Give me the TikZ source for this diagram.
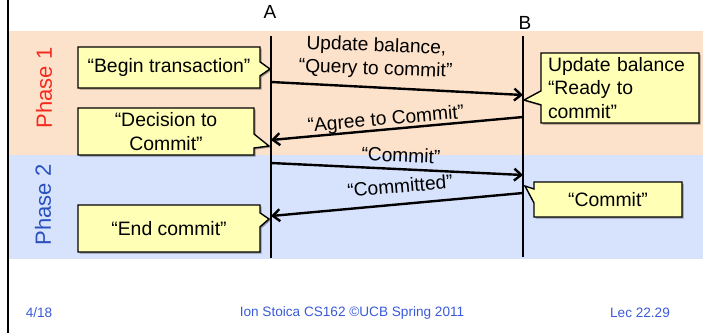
\documentclass[tikz,border=0pt]{standalone}
\usepackage{fontspec}
\setmainfont{Liberation Sans}
\usetikzlibrary{arrows.meta,shapes.callouts,shadows}
\definecolor{phaseone}{HTML}{FDE2CB}
\definecolor{phasetwo}{HTML}{D7E3FC}
\definecolor{notefill}{HTML}{FFFFB6}
\definecolor{redlabel}{HTML}{F52A1E}
\definecolor{bluelabel}{HTML}{2A4FBF}
\definecolor{footblue}{HTML}{3A5AD8}
\begin{document}
\begin{tikzpicture}[x=1pt,y=-1pt,
  note/.style={rectangle callout, draw=black, line width=1.4pt, fill=notefill,
    font=\fontsize{19.4}{23.5}\selectfont, align=center, inner sep=2pt,
    callout pointer width=14pt,
    drop shadow={shadow xshift=1.5pt, shadow yshift=-1.5pt, opacity=0.35, fill=black}},
  life/.style={line width=2.6pt},
  msg/.style={line width=2.4pt, -{Straight Barb[length=7pt,width=12pt]}},
  msglabel/.style={font=\fontsize{19.2}{23}\selectfont, inner sep=0pt, align=center},
  phase/.style={font=\fontsize{22}{24}\selectfont, rotate=90, inner sep=0pt},
  proc/.style={font=\fontsize{19}{20}\selectfont, inner sep=0pt},
  foot/.style={font=\fontsize{13.6}{15}\selectfont, text=footblue, inner sep=0pt}
]
\useasboundingbox (0,0) rectangle (703,333);

% phase bands and slide frame
\fill[phaseone] (9,31) rectangle (703,155);
\fill[phasetwo] (9,155) rectangle (703,259);
\draw[line width=2pt] (8,0) -- (8,333);

\node[phase, text=redlabel] (ph1) at (44,88) {Phase 1};
\node[phase, text=bluelabel] (ph2) at (43,205) {Phase 2};

% participants and lifelines
\node[proc] (A) at (270,12) {A};
\node[proc] (B) at (525,23) {B};
\coordinate (atop) at (271,36);
\coordinate (abot) at (271,258);
\coordinate (btop) at (523,36);
\coordinate (bbot) at (523,257);
\draw[life] (atop) -- (abot);
\draw[life] (btop) -- (bbot);

% message end points on the lifelines
\coordinate (m1s) at (271,82);  \coordinate (m1e) at (523,95);
\coordinate (m2s) at (523,117); \coordinate (m2e) at (271,140);
\coordinate (m3s) at (271,163); \coordinate (m3e) at (523,175);
\coordinate (m4s) at (523,193); \coordinate (m4e) at (271,216);

\draw[msg] (m1s) -- (m1e);
\draw[msg] (m2s) -- (m2e);
\draw[msg] (m3s) -- (m3e);
\draw[msg] (m4s) -- (m4e);

\node[msglabel, rotate=-2] (l1) at (376,58) {Update balance,\\“Query to commit”};
\node[msglabel, rotate=5] (l2) at (386,120) {“Agree to Commit”};
\node[msglabel, rotate=-2.5] (l3) at (401,155) {“Commit”};
\node[msglabel, rotate=5] (l4) at (400,186) {“Committed”};

% notes attached to the lifelines
\node[note, minimum width=182pt, minimum height=41pt,
  callout absolute pointer={(270,69)}] (n1) at (169,67.5) {“Begin transaction”};
\node[note, minimum width=176pt, minimum height=47pt,
  callout absolute pointer={(269,146)}] (n2) at (166,131.5) {“Decision to\\Commit”};
\node[note, minimum width=182pt, minimum height=47pt,
  callout absolute pointer={(269,219)}] (n3) at (169,228.5) {“End commit”};
\node[note, text width=144pt, inner xsep=7pt, align=left, minimum height=70pt,
  callout absolute pointer={(524,100)}] (n4) at (620,88) {Update balance\\“Ready to\\commit”};
\node[note, minimum width=148pt, minimum height=35pt,
  callout absolute pointer={(525,186)}] (n5) at (608,199.5) {“Commit”};

% footer
\node[foot] (f1) at (39,313) {4/18};
\node[foot] (f2) at (352,313) {Ion Stoica CS162 ©UCB Spring 2011};
\node[foot] (f3) at (640,313) {Lec 22.29};
\end{tikzpicture}
\end{document}
